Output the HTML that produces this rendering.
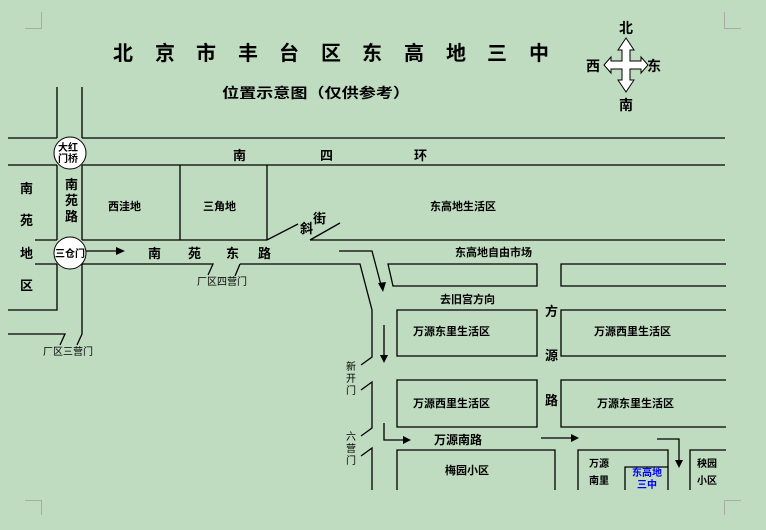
<!DOCTYPE html>
<html><head><meta charset="utf-8"><style>
html,body{margin:0;padding:0;background:#c0dcc0;}
svg{display:block;}
text{font-family:"Liberation Sans","Noto Sans CJK SC","WenQuanYi Zen Hei",sans-serif;font-weight:bold;fill:#000;}
</style></head><body>
<svg width="766" height="530" viewBox="0 0 766 530" xmlns="http://www.w3.org/2000/svg">
<rect width="766" height="530" fill="#c0dcc0"/>
<g stroke="#aaa" stroke-width="1" fill="none">
<path d="M724.5 12V28.5H741"/><path d="M41.5 12V28.5H25"/>
<path d="M724.5 515V500.5H741"/><path d="M41.5 515V500.5H25"/>
</g>
<g font-size="20">
<text x="113" y="60">北</text><text x="155" y="60">京</text><text x="196" y="60">市</text><text x="238" y="60">丰</text><text x="279" y="60">台</text><text x="321" y="60">区</text><text x="362" y="60">东</text><text x="404" y="60">高</text><text x="446" y="60">地</text><text x="487" y="60">三</text><text x="510" y="60" dx="19">中</text>
</g>
<text x="222" y="98" font-size="14" textLength="188" lengthAdjust="spacingAndGlyphs">位置示意图（仅供参考）</text>
<path d="M626 38 L634 50 L630 50 L630 61 L641 61 L641 57 L648 65 L641 73 L641 69 L630 69 L630 80 L634 80 L626 92 L618 80 L622 80 L622 69 L611 69 L611 73 L604 65 L611 57 L611 61 L622 61 L622 50 L618 50 Z" fill="#fff" stroke="#000" stroke-width="1"/>
<g font-size="14">
<text x="619" y="33">北</text><text x="619" y="110">南</text><text x="586" y="71">西</text><text x="647" y="71">东</text>
</g>
<g stroke="#000" stroke-width="1.3" fill="none">
<path d="M8 138H57M82 138H725M8 165H57M82 165H725"/>
<path d="M57 87V138M82 87V138"/>
<path d="M57 165V240M82 165V240M35 240H57M82 240H267L298 224M310 240H725M310 240L340 223"/>
<path d="M180 165V240M267 165V240"/>
<path d="M35 264H57M82 264H213L208 275M240 264H360L372 310V357L361 365M235 276L240 264"/>
<path d="M57 264V310H8M82 264V334L77 345M8 334H65L60 345"/>
<path d="M361 390L372 382V428L361 436M361 456L372 448V490"/>
<path d="M339 251H372L381 285"/>
<path d="M86 251H118"/>
<path d="M388 264H537V286H393Z"/>
<path d="M726 264H561V286H726"/>
<path d="M397 310H537V356H397Z"/>
<path d="M726 310H561V356H726"/>
<path d="M397 380H537V427H397Z"/>
<path d="M726 380H561V427H726"/>
<path d="M384 325V358"/>
<path d="M384 423V440H404"/>
<path d="M541 438H574"/>
<path d="M657 439H679V462"/>
<path d="M397 490V450H555V490"/>
<path d="M578 490V450H668V490"/>
<path d="M625 490V467H668"/>
<path d="M690 490V450H726"/>
</g>
<g fill="#000">
<path d="M125 251L116 247V255Z"/>
<path d="M383 292L378 283L386 282Z"/>
<path d="M384 363L380 355H388Z"/>
<path d="M411 440L403 436V444Z"/>
<path d="M579 438L571 434V442Z"/>
<path d="M679 468L675 460H683Z"/>
</g>
<circle cx="70" cy="153" r="16" fill="#fff" stroke="#000"/>
<circle cx="70" cy="253" r="16" fill="#fff" stroke="#000"/>
<text x="58" y="151" font-size="10">大红</text><text x="58" y="162" font-size="10">门桥</text>
<text x="55" y="257" font-size="10">三仓门</text>
<g font-size="13">
<text x="233" y="160">南</text><text x="320" y="160">四</text><text x="414" y="160">环</text>
<text x="20" y="193">南</text><text x="20" y="225">苑</text><text x="20" y="258">地</text><text x="20" y="290">区</text>
<text x="65" y="189">南</text><text x="65" y="205">苑</text><text x="65" y="221">路</text>
<text x="148" y="258">南</text><text x="188" y="258">苑</text><text x="226" y="258">东</text><text x="258" y="258">路</text>
<text x="313" y="223">街</text><text x="300" y="233">斜</text>
<text x="545" y="316">方</text><text x="545" y="360">源</text><text x="545" y="405">路</text>
</g>
<g font-size="11">
<text x="108" y="210">西洼地</text><text x="203" y="210">三角地</text>
<text x="430" y="210">东高地生活区</text>
<text x="455" y="256">东高地自由市场</text>
<text x="440" y="303">去旧宫方向</text>
<text x="413" y="335">万源东里生活区</text>
<text x="594" y="335">万源西里生活区</text>
<text x="413" y="407">万源西里生活区</text>
<text x="597" y="407">万源东里生活区</text>
<text x="434" y="444" font-size="12">万源南路</text>
<text x="445" y="474">梅园小区</text>
<text x="589" y="467" font-size="10">万源</text>
<text x="589" y="484" font-size="10">南里</text>
<text x="697" y="467" font-size="10">秧园</text>
<text x="697" y="484" font-size="10">小区</text>
<text x="632" y="476" font-size="10" style="fill:#00f">东高地</text>
<text x="637" y="488" font-size="10" style="fill:#00f">三中</text>
</g>
<g font-size="10">
<text x="197" y="285" style="font-weight:normal">厂区四营门</text>
<text x="43" y="355" style="font-weight:normal">厂区三营门</text>
<text x="346" y="370" style="font-weight:normal">新</text><text x="346" y="382" style="font-weight:normal">开</text><text x="346" y="394" style="font-weight:normal">门</text>
<text x="346" y="440" style="font-weight:normal">六</text><text x="346" y="452" style="font-weight:normal">营</text><text x="346" y="464" style="font-weight:normal">门</text>
</g>
</svg>
</body></html>
